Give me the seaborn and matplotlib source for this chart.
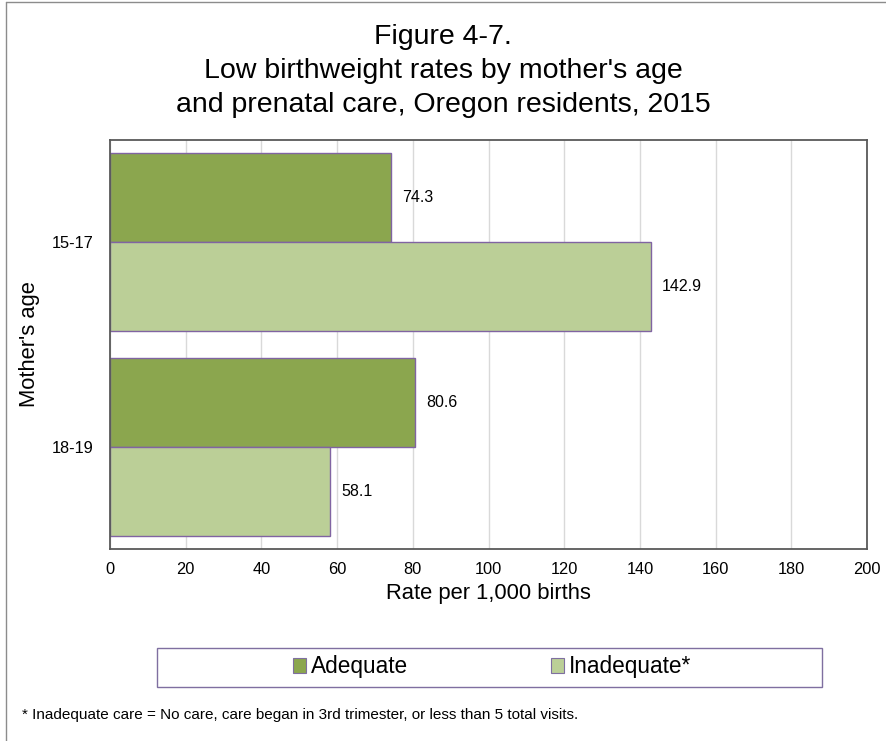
import matplotlib
matplotlib.use('Agg')
import matplotlib.pyplot as plt
from matplotlib.patches import Rectangle, Patch
from matplotlib.lines import Line2D
import seaborn as sns
import pandas as pd

# data
ages = ['15-17', '18-19']
care_types = ['Adequate', 'Inadequate*']
adequate = [74.3, 80.6]
inadequate = [142.9, 58.1]
colors = ['#8BA64E', '#BBCF97']
edge_col = '#8064A2'
title_lines = ["Figure 4-7.",
               "Low birthweight rates by mother's age",
               "and prenatal care, Oregon residents, 2015"]

sns.set_theme(style='white')
plt.rcParams['font.family'] = ['Liberation Sans', 'DejaVu Sans']
plt.rcParams['text.color'] = 'black'
plt.rcParams['axes.labelcolor'] = 'black'

df = pd.DataFrame({
    'age': ages * 2,
    'care': [care_types[0]] * 2 + [care_types[1]] * 2,
    'rate': adequate + inadequate,
})

W, H = 886, 741
fig = plt.figure(figsize=(W / 100, H / 100), dpi=100)
ax = fig.add_axes([110 / W, 1 - 549 / H, (867 - 110) / W, (549 - 140) / H])

sns.barplot(data=df, y='age', x='rate', hue='care', orient='h',
            palette=colors, width=0.87, dodge=True, ax=ax,
            edgecolor=edge_col, linewidth=1.0, legend=False, saturation=1)

for c in ax.containers:
    ax.bar_label(c, fmt='%.1f', padding=8, fontsize=11.5, color='black')

ax.set_xlim(0, 200)
ax.set_xticks(range(0, 201, 20))
ax.xaxis.grid(True, color='#d9d9d9', linewidth=1)
ax.set_axisbelow(True)
for s in ax.spines.values():
    s.set_color('#595959')
    s.set_linewidth(1.3)
    s.set_visible(True)
ax.tick_params(axis='both', length=0, labelsize=11.8, colors='black')
ax.tick_params(axis='x', pad=9)
ax.tick_params(axis='y', pad=12)
ax.set_xlabel('Rate per 1,000 births', fontsize=15.8, labelpad=5)
ax.set_ylabel("Mother's age", fontsize=15.8, labelpad=8)

# three-line title, baselines as in the original
for line, yb in zip(title_lines, [44, 78, 112]):
    fig.text(0.5, 1 - yb / H, line, ha='center', va='baseline', fontsize=20.5)

# legend with its own frame
fig.patches.append(Rectangle((157 / W, 1 - 687 / H), (822 - 157) / W, 39 / H,
                             transform=fig.transFigure, fill=False,
                             edgecolor='#7F6FA0', linewidth=1.0))
handles = [Patch(facecolor=colors[i], edgecolor='#7F6FA0', linewidth=0.8) for i in range(2)]
fig.legend(handles, care_types, loc='center', bbox_to_anchor=(492 / W, 1 - 667 / H),
           ncol=2, frameon=False, fontsize=16.3, handlelength=0.6, handleheight=0.6,
           handletextpad=0.2, columnspacing=6.3)

fig.text(22 / W, 1 - 715 / H,
         '* Inadequate care = No care, care began in 3rd trimester, or less than 5 total visits.',
         ha='left', va='center', fontsize=11)

# outer chart frame (left and top edges visible)
fig.lines.append(Line2D([6 / W, 6 / W], [0, 1 - 2 / H], transform=fig.transFigure, color='#8c8c8c', linewidth=1))
fig.lines.append(Line2D([6 / W, 1], [1 - 2 / H, 1 - 2 / H], transform=fig.transFigure, color='#8c8c8c', linewidth=1))

fig.savefig('out.png', dpi=100)
